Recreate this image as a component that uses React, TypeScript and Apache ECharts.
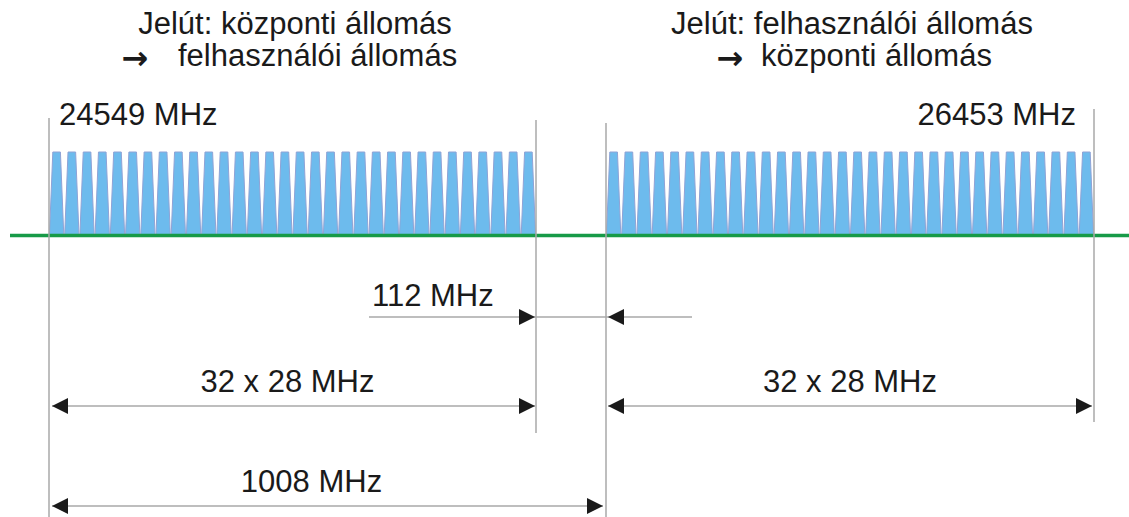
import React, { useEffect, useRef } from "react";
import * as echarts from "echarts";

// ---- data (MHz) ----
const downlinkChannelStarts = [
  24549, 24577, 24605, 24633, 24661, 24689, 24717, 24745, 24773, 24801, 24829,
  24857, 24885, 24913, 24941, 24969, 24997, 25025, 25053, 25081, 25109, 25137,
  25165, 25193, 25221, 25249, 25277, 25305, 25333, 25361, 25389, 25417,
];
const uplinkChannelStarts = [
  25557, 25585, 25613, 25641, 25669, 25697, 25725, 25753, 25781, 25809, 25837,
  25865, 25893, 25921, 25949, 25977, 26005, 26033, 26061, 26089, 26117, 26145,
  26173, 26201, 26229, 26257, 26285, 26313, 26341, 26369, 26397, 26425,
];
const channelWidthMHz = 28;
const channelLevel = 1;
const downlinkBand = [24549, 25445];
const uplinkBand = [25557, 26453];
const titleLeft = ["Jelút: központi állomás", "felhasználói állomás"];
const titleRight = ["Jelút: felhasználói állomás", "központi állomás"];
const edgeLabels = ["24549 MHz", "26453 MHz"];
const dimLabels = ["112 MHz", "32 x 28 MHz", "32 x 28 MHz", "1008 MHz"];

// ---- layout ----
const W = 1129;
const H = 517;
const GRID_LEFT = 10;
const GRID_WIDTH = W - GRID_LEFT;
const FONT = '"Liberation Sans", Arial, sans-serif';
const FS = 31;
const INK = "#1a1a1a";
const GREY = "#a8a8a8";

function axisRange(v0: number, p0: number, v1: number, p1: number) {
  const k = (v1 - v0) / (p1 - p0);
  const min = v0 - (p0 - GRID_LEFT) * k;
  return { min, max: min + GRID_WIDTH * k };
}
const range0 = axisRange(downlinkBand[0], 49, downlinkBand[1], 536);
const range1 = axisRange(uplinkBand[0], 606, uplinkBand[1], 1094);

const trapezoid = (params: any, api: any) => {
  const s = api.value(0);
  const e = s + channelWidthMHz;
  const lvl = api.value(1);
  const b0 = api.coord([s + 0.8, 0]);
  const b1 = api.coord([e - 0.8, 0]);
  const t1 = api.coord([e - 7, lvl]);
  const t0 = api.coord([s + 7, lvl]);
  return {
    type: "polygon",
    shape: { points: [b0, b1, t1, t0] },
    style: { fill: "#6dbbed", stroke: "#8fa3d6", lineWidth: 1 },
  };
};

export default function App() {
  const ref = useRef<HTMLDivElement>(null);
  useEffect(() => {
    document.body.style.margin = "0";
    const chart = echarts.init(ref.current!, null, { renderer: "svg" });
    chart.setOption({
      animation: false,
      grid: { left: GRID_LEFT, right: 0, top: 152, bottom: H - 235.5 },
      xAxis: [
        { type: "value", min: range0.min, max: range0.max, show: false },
        { type: "value", min: range1.min, max: range1.max, show: false },
      ],
      yAxis: { type: "value", min: 0, max: 1, show: false },
      series: [
        {
          name: "Jelút: központi → felhasználói",
          type: "custom",
          xAxisIndex: 0,
          renderItem: trapezoid,
          data: downlinkChannelStarts.map((s) => [s, channelLevel]),
          z: 2,
        },
        {
          name: "Jelút: felhasználói → központi",
          type: "custom",
          xAxisIndex: 1,
          renderItem: trapezoid,
          data: uplinkChannelStarts.map((s) => [s, channelLevel]),
          z: 2,
        },
        {
          name: "baseline",
          type: "line",
          xAxisIndex: 0,
          data: [
            [range0.min, 0],
            [range0.max, 0],
          ],
          showSymbol: false,
          clip: false,
          silent: true,
          lineStyle: { color: "#179a48", width: 3.5 },
          z: 3,
        },
      ],
    });

    const px0 = (v: number) => chart.convertToPixel({ xAxisIndex: 0 }, v) as number;
    const px1 = (v: number) => chart.convertToPixel({ xAxisIndex: 1 }, v) as number;
    const xL0 = px0(downlinkBand[0]);
    const xL1 = px0(downlinkBand[1]);
    const xR0 = px1(uplinkBand[0]);
    const xR1 = px1(uplinkBand[1]);

    const line = (x1: number, y1: number, x2: number, y2: number) => ({
      type: "line",
      shape: { x1, y1, x2, y2 },
      style: { stroke: GREY, lineWidth: 1.5 },
      z: 10,
    });
    const head = (tip: number, y: number, dir: number) => ({
      type: "polygon",
      shape: {
        points: [
          [tip, y],
          [tip - dir * 16, y - 8],
          [tip - dir * 16, y + 8],
        ],
      },
      style: { fill: INK },
      z: 11,
    });
    const text = (
      t: string,
      x: number,
      y: number,
      align: string,
      fs = FS,
      family = FONT,
      weight = "normal"
    ) => ({
      type: "text",
      x,
      y,
      style: {
        text: t,
        fontSize: fs,
        fontFamily: family,
        fontWeight: weight,
        fill: INK,
        align,
        verticalAlign: "middle",
      },
      z: 12,
    });

    const ARROW_FONT = '"DejaVu Sans", sans-serif';

    const g: any[] = [
      // extension lines
      line(xL0, 118, xL0, H),
      line(xL1, 120, xL1, 433),
      line(xR0, 123, xR0, H),
      line(xR1, 109, xR1, 422),
      // 112 MHz guard band
      line(xL1 - 167, 317, xR0 + 86, 317),
      head(xL1 - 1, 317, 1),
      head(xR0 + 2, 317, -1),
      text(dimLabels[0], xL1 - 164, 295, "left"),
      // 32 x 28 MHz (left)
      line(xL0 + 3, 406, xL1 - 1, 406),
      head(xL0 + 3, 406, -1),
      head(xL1 - 1, 406, 1),
      text(dimLabels[1], (xL0 + xL1) / 2 - 5, 381, "center"),
      // 32 x 28 MHz (right)
      line(xR0 + 2, 406, xR1 - 2, 406),
      head(xR0 + 2, 406, -1),
      head(xR1 - 2, 406, 1),
      text(dimLabels[2], (xR0 + xR1) / 2, 381, "center"),
      // 1008 MHz
      line(xL0 + 3, 506, xR0 - 3, 506),
      head(xL0 + 3, 506, -1),
      head(xR0 - 3, 506, 1),
      text(dimLabels[3], (xL0 + xR0) / 2 - 16, 481, "center"),
      // band edge frequencies
      text(edgeLabels[0], xL0 + 10, 114, "left"),
      text(edgeLabels[1], xR1 - 18, 114, "right"),
      // titles
      text(titleLeft[0], 295, 23, "center"),
      text("→", 135, 58, "center", 32, ARROW_FONT, "bold"),
      text(titleLeft[1], 178, 55, "left"),
      text(titleRight[0], 852, 23, "center"),
      text("→", 730, 58, "center", 32, ARROW_FONT, "bold"),
      text(titleRight[1], 761, 55, "left"),
    ];
    chart.setOption({ graphic: g });

    return () => chart.dispose();
  }, []);
  return <div ref={ref} style={{ width: W, height: H }} />;
}
